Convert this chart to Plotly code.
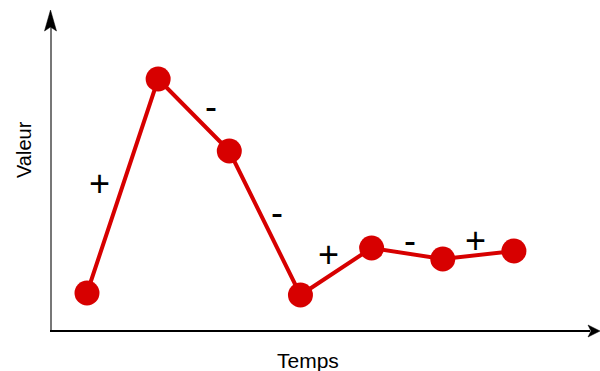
import plotly.graph_objects as go

temps = [1, 2, 3, 4, 5, 6, 7]
valeur = [37, 251, 179, 35, 82, 71, 79]

RED = "#d70000"
FONT = "Liberation Sans, Arial, sans-serif"

# plot area (page pixels): left 50, width 550, top 8, height 322
PW, PH = 550, 322

fig = go.Figure()
fig.add_trace(go.Scatter(
    x=temps, y=valeur, mode="lines+markers",
    line=dict(color=RED, width=4),
    marker=dict(color=RED, size=25),
    hoverinfo="skip", showlegend=False,
))

# sign labels for each segment (pixel offsets from segment midpoint)
offsets = [(-23, 2.5), (17, 9), (12, 11), (-8, 17.5), (3, 13.5), (-3, 14.5)]
for i in range(len(temps) - 1):
    d = valeur[i + 1] - valeur[i]
    sign = "+" if d > 0 else "-"
    xm = (temps[i] + temps[i + 1]) / 2
    ym = (valeur[i] + valeur[i + 1]) / 2
    dx, dy = offsets[i]
    fig.add_annotation(x=xm, y=ym, xref="x", yref="y", text=sign,
                       showarrow=False, xshift=dx, yshift=dy,
                       font=dict(family=FONT, size=36, color="black"))

# axes lines
ax_x = 1 / PW      # y-axis position (paper)
ax_y = -1 / PH     # x-axis position (paper)
fig.add_shape(type="line", xref="paper", yref="paper", x0=ax_x, x1=ax_x,
              y0=ax_y, y1=(330 - 27) / PH, line=dict(color="#777777", width=2))
fig.add_shape(type="line", xref="paper", yref="paper", x0=0, x1=1 - 10 / PW,
              y0=ax_y, y1=ax_y, line=dict(color="black", width=2))
# arrow heads
fig.add_shape(type="path", xref="paper", yref="paper",
              xsizemode="pixel", ysizemode="pixel",
              xanchor=0.5 / PW, yanchor=(330 - 10) / PH,
              path="M 0 0 L 6 -21 L 0 -17 L -6 -21 Z",
              fillcolor="black", line=dict(color="black", width=0.5))
fig.add_shape(type="path", xref="paper", yref="paper",
              xsizemode="pixel", ysizemode="pixel",
              xanchor=1, yanchor=ax_y,
              path="M 0 0 L -12 6 L -9 0 L -12 -6 Z",
              fillcolor="black", line=dict(color="black", width=0.5))

# axis titles
fig.add_annotation(x=(308 - 50) / PW, y=-30 / PH, xref="paper", yref="paper",
                   text="Temps", showarrow=False, xanchor="center", yanchor="middle",
                   font=dict(family=FONT, size=21, color="black"))
fig.add_annotation(x=(24 - 50) / PW, y=(330 - 150) / PH, xref="paper", yref="paper",
                   text="Valeur", textangle=-90, showarrow=False,
                   xanchor="center", yanchor="middle",
                   font=dict(family=FONT, size=20, color="black"))

fig.update_layout(
    width=600, height=371,
    margin=dict(l=50, r=0, t=8, b=41),
    plot_bgcolor="white", paper_bgcolor="white",
    xaxis=dict(range=[0.48, 8.21], visible=False, fixedrange=True),
    yaxis=dict(range=[0, 322], visible=False, fixedrange=True),
)

fig.write_html("out.html",
               config={"displayModeBar": False, "staticPlot": True},
               post_script="document.body.style.margin='0';"
                           "document.body.style.overflow='hidden';")
